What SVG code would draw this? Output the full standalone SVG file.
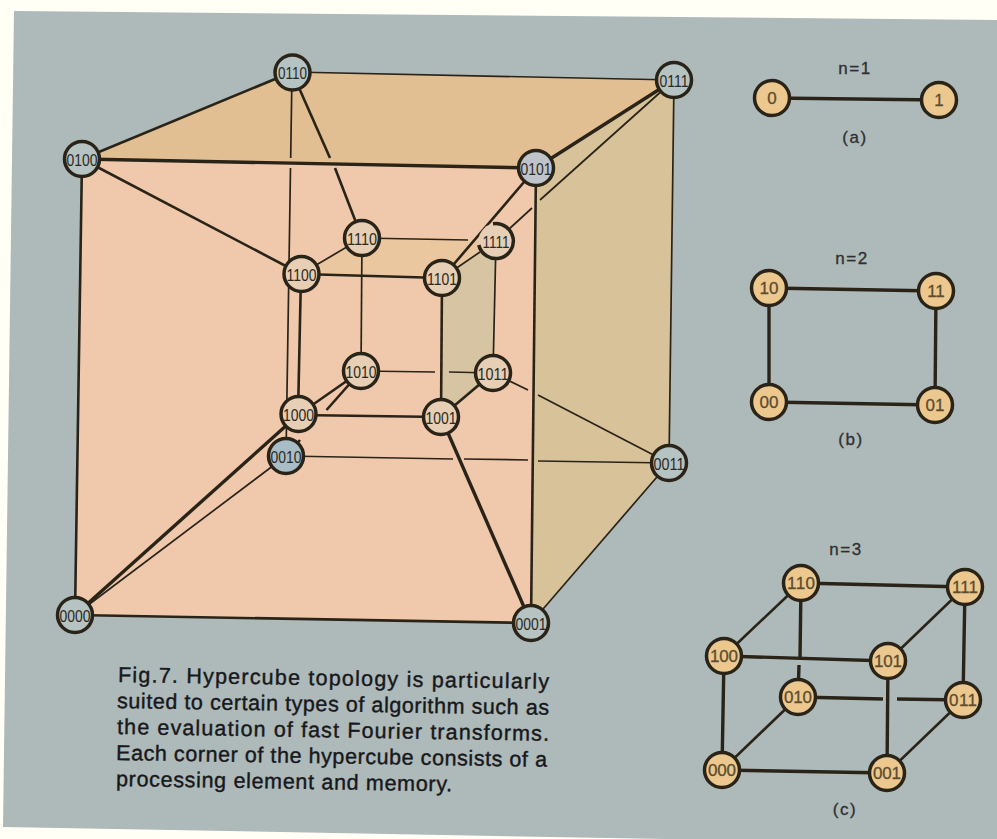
<svg xmlns="http://www.w3.org/2000/svg" width="997" height="839" viewBox="0 0 997 839">
<style>
text{font-family:"Liberation Sans",Arial,sans-serif;text-anchor:middle}
.n circle,.n path{stroke:#2a2418;stroke-width:3.5}
.o circle{fill:#b6c3c3}
.i circle{fill:#e6cfb4}
.i .f{stroke:none;fill:#e6cfb4}
.s circle{fill:#edc88e}
.n text{font-size:17px;fill:#2c2a22}
.s text{font-size:17px;fill:#5c4c30;stroke:#5c4c30;stroke-width:.3}
.c line{stroke:#2a2418;stroke-linecap:butt}
.w1{stroke-width:1.7}.w2{stroke-width:2.6}.w3{stroke-width:3.4}
.cap{font-size:21.5px;fill:#16181a;stroke:#16181a;stroke-width:.4;text-anchor:start}
.lab{font-size:17px;fill:#2e3030;stroke:#2e3030;stroke-width:.3;letter-spacing:1.5px}
</style>
<rect width="997" height="839" fill="#fffff6"/>
<polygon points="14,11 997,20 997,845 3,827" fill="#aeb9ba"/>
<g id="faces">
<polygon points="82,159 536,168 531,623 75,615" fill="#f0c9ad"/>
<polygon points="82,159 292,72 674,80 536,168" fill="#e2bf93"/>
<polygon points="536,168 674,80 669,463 531,623" fill="#d8c29a"/>
<polygon points="301,274 362,238 496,241 442,278" fill="#ebc79f"/>
<polygon points="442,278 496,241 493,373 441,417" fill="#d6c4a2"/>
</g>
<g id="connectors" class="c">
<line class="w2" x1="82" y1="159" x2="292" y2="72"/>
<line class="w1" x1="292" y1="72" x2="674" y2="80"/>
<line class="w3" x1="82" y1="159" x2="536" y2="168"/>
<line class="w3" x1="536" y1="168" x2="674" y2="80"/>
<line class="w2" x1="82" y1="159" x2="75" y2="615"/>
<line class="w2" x1="75" y1="615" x2="531" y2="623"/>
<line class="w2" x1="536" y1="168" x2="531" y2="623"/>
<line class="w1" x1="674" y1="80" x2="669" y2="463"/>
<line class="w1" x1="669" y1="463" x2="531" y2="623"/>
<line class="w1" x1="292" y1="72" x2="290.7" y2="158"/>
<line class="w1" x1="290.5" y1="168" x2="286" y2="456"/>
<line class="w2" x1="292" y1="72" x2="330" y2="158"/>
<line class="w2" x1="335" y1="168" x2="362" y2="238"/>
<line class="w2" x1="82" y1="159" x2="301" y2="274"/>
<line class="w1" x1="286" y1="456" x2="453" y2="459"/>
<line class="w1" x1="464" y1="459" x2="528" y2="460"/>
<line class="w1" x1="538" y1="461" x2="669" y2="463"/>
<line class="w1" x1="493" y1="373" x2="528" y2="390"/>
<line class="w1" x1="538" y1="395" x2="669" y2="463"/>
<line class="w1" x1="674" y1="80" x2="540" y2="200"/>
<line class="w1" x1="532" y1="208" x2="496" y2="241"/>
<line class="w2" x1="442" y1="278" x2="536" y2="168"/>
<line class="w1" x1="442" y1="278" x2="480" y2="252"/>
<line class="w1" x1="301" y1="274" x2="362" y2="238"/>
<line class="w1" x1="362" y1="238" x2="468" y2="240"/>
<line class="w2" x1="301" y1="274" x2="442" y2="278"/>
<line class="w2" x1="301" y1="274" x2="298" y2="415"/>
<line class="w2" x1="442" y1="278" x2="441" y2="417"/>
<line class="w1" x1="362" y1="238" x2="361" y2="371"/>
<line class="w1" x1="496" y1="241" x2="493" y2="373"/>
<line class="w2" x1="298" y1="415" x2="441" y2="417"/>
<line class="w1" x1="361" y1="371" x2="435" y2="372"/>
<line class="w1" x1="449" y1="372" x2="493" y2="373"/>
<line class="w2" x1="298" y1="415" x2="361" y2="371"/>
<line class="w2" x1="441" y1="417" x2="493" y2="373"/>
<line class="w2" x1="361" y1="371" x2="326.5" y2="410"/>
<line class="w2" x1="300" y1="440" x2="286" y2="456"/>
<line class="w3" x1="298" y1="415" x2="75" y2="615"/>
<line class="w1" x1="286" y1="456" x2="75" y2="615"/>
<line class="w3" x1="441" y1="417" x2="531" y2="623"/>
<line class="w3" x1="772" y1="98" x2="939" y2="100"/>
<line class="w3" x1="769" y1="288" x2="936" y2="291"/>
<line class="w3" x1="769" y1="288" x2="769" y2="402"/>
<line class="w3" x1="936" y1="291" x2="935" y2="405"/>
<line class="w3" x1="769" y1="402" x2="935" y2="405"/>
<line class="w3" x1="801" y1="583" x2="965" y2="587"/>
<line class="w2" x1="801" y1="583" x2="724" y2="656"/>
<line class="w2" x1="965" y1="587" x2="888" y2="661"/>
<line class="w3" x1="724" y1="656" x2="888" y2="661"/>
<line class="w3" x1="801" y1="583" x2="800" y2="659"/>
<line class="w3" x1="799" y1="665" x2="798" y2="697"/>
<line class="w3" x1="965" y1="587" x2="963" y2="700"/>
<line class="w3" x1="724" y1="656" x2="722" y2="770"/>
<line class="w3" x1="888" y1="661" x2="887" y2="773"/>
<line class="w3" x1="798" y1="697" x2="883" y2="699"/>
<line class="w3" x1="897" y1="699" x2="963" y2="700"/>
<line class="w2" x1="798" y1="697" x2="722" y2="770"/>
<line class="w2" x1="963" y1="700" x2="887" y2="773"/>
<line class="w3" x1="722" y1="770" x2="887" y2="773"/>
</g>
<g id="n0110" class="n o"><circle cx="292.500" cy="72.500" r="17.500"/><text x="292.500" y="79" textLength="29" lengthAdjust="spacingAndGlyphs">0110</text></g>
<g id="n0111" class="n o"><circle cx="674" cy="80" r="17.500"/><text x="674" y="86.500" textLength="29" lengthAdjust="spacingAndGlyphs">0111</text></g>
<g id="n0100" class="n o"><circle cx="82" cy="159" r="17.500"/><text x="82" y="165.500" textLength="31" lengthAdjust="spacingAndGlyphs">0100</text></g>
<g id="n0101" class="n o"><circle cx="536" cy="168" r="17.500" style="fill:#bfc4ca"/><text x="536" y="174.500" textLength="31" lengthAdjust="spacingAndGlyphs">0101</text></g>
<g id="n0011" class="n o"><circle cx="669" cy="463" r="17.500"/><text x="669" y="469.500" textLength="31" lengthAdjust="spacingAndGlyphs">0011</text></g>
<g id="n0000" class="n o"><circle cx="75" cy="615" r="17.500"/><text x="75" y="621.500" textLength="31" lengthAdjust="spacingAndGlyphs">0000</text></g>
<g id="n0001" class="n o"><circle cx="531" cy="623" r="17.500"/><text x="531" y="629.500" textLength="31" lengthAdjust="spacingAndGlyphs">0001</text></g>
<g id="n0010" class="n o"><circle cx="286" cy="456" r="17.500" style="fill:#a9bdc6"/><text x="286" y="462.500" textLength="31" lengthAdjust="spacingAndGlyphs">0010</text></g>
<g id="n1110" class="n i"><circle cx="362" cy="238" r="17.500"/><text x="362" y="244.500" textLength="30" lengthAdjust="spacingAndGlyphs">1110</text></g>
<g id="n1111" class="n i"><circle class="f" cx="496" cy="241" r="17.500"/><path d="M478.800,245 A17.500,17.500 0 1 0 493,223.800" fill="none"/><text x="496" y="247.500" textLength="27" lengthAdjust="spacingAndGlyphs">1111</text></g>
<g id="n1100" class="n i"><circle cx="301.500" cy="274" r="17.500"/><text x="301.500" y="280.500" textLength="30" lengthAdjust="spacingAndGlyphs">1100</text></g>
<g id="n1101" class="n i"><circle cx="442" cy="278" r="17.500"/><text x="442" y="284.500" textLength="30" lengthAdjust="spacingAndGlyphs">1101</text></g>
<g id="n1010" class="n i"><circle cx="361" cy="371" r="17.500"/><text x="361" y="377.500" textLength="31" lengthAdjust="spacingAndGlyphs">1010</text></g>
<g id="n1011" class="n i"><circle cx="493" cy="373" r="17.500"/><text x="493" y="379.500" textLength="31" lengthAdjust="spacingAndGlyphs">1011</text></g>
<g id="n1000" class="n i"><circle cx="298.500" cy="414" r="17.500"/><text x="298.500" y="420.500" textLength="31" lengthAdjust="spacingAndGlyphs">1000</text></g>
<g id="n1001" class="n i"><circle cx="441" cy="417" r="17.500"/><text x="441" y="423.500" textLength="31" lengthAdjust="spacingAndGlyphs">1001</text></g>
<g id="a0" class="n s"><circle cx="772" cy="98" r="17.500"/><text x="772" y="104">0</text></g>
<g id="a1" class="n s"><circle cx="939" cy="100" r="17.500"/><text x="939" y="106">1</text></g>
<g id="b10" class="n s"><circle cx="769" cy="288" r="17.500"/><text x="769" y="294">10</text></g>
<g id="b11" class="n s"><circle cx="936" cy="291" r="17.500"/><text x="936" y="297">11</text></g>
<g id="b00" class="n s"><circle cx="769" cy="402" r="17.500"/><text x="769" y="408">00</text></g>
<g id="b01" class="n s"><circle cx="935" cy="405" r="17.500"/><text x="935" y="411">01</text></g>
<g id="c110" class="n s"><circle cx="801" cy="583" r="17.500"/><text x="801" y="589" textLength="28">110</text></g>
<g id="c111" class="n s"><circle cx="965" cy="587" r="17.500"/><text x="965" y="593" textLength="26">111</text></g>
<g id="c100" class="n s"><circle cx="724" cy="656" r="17.500"/><text x="724" y="662" textLength="28">100</text></g>
<g id="c101" class="n s"><circle cx="888" cy="661" r="17.500"/><text x="888" y="667" textLength="28">101</text></g>
<g id="c010" class="n s"><circle cx="798" cy="697" r="17.500"/><text x="798" y="703" textLength="28">010</text></g>
<g id="c011" class="n s"><circle cx="963" cy="700" r="17.500"/><text x="963" y="706" textLength="28">011</text></g>
<g id="c000" class="n s"><circle cx="722" cy="770" r="17.500"/><text x="722" y="776" textLength="28">000</text></g>
<g id="c001" class="n s"><circle cx="887" cy="773" r="17.500"/><text x="887" y="779" textLength="28">001</text></g>
<g id="labels">
<text class="lab" x="855" y="74">n=1</text>
<text class="lab" x="855" y="143">(a)</text>
<text class="lab" x="852" y="264">n=2</text>
<text class="lab" x="851" y="445">(b)</text>
<text class="lab" x="846" y="555">n=3</text>
<text class="lab" x="845" y="815">(c)</text>
</g>
<g id="caption">
<text class="cap" transform="translate(118 682) rotate(.9)" textLength="431" lengthAdjust="spacing">Fig.7. Hypercube topology is particularly</text>
<text class="cap" transform="translate(117 708) rotate(.9)" textLength="432">suited to certain types of algorithm such as</text>
<text class="cap" transform="translate(117 734) rotate(.9)" textLength="432">the evaluation of fast Fourier transforms.</text>
<text class="cap" transform="translate(116 760) rotate(.9)" textLength="431">Each corner of the hypercube consists of a</text>
<text class="cap" transform="translate(116 786) rotate(.9)" textLength="336">processing element and memory.</text>
</g>
</svg>
